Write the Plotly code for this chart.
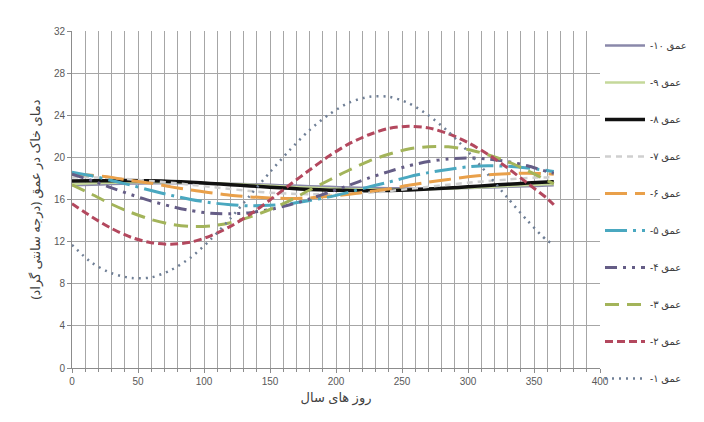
import plotly.graph_objects as go

days = [0, 15, 30, 45, 60, 75, 90, 105, 120, 135, 150, 165, 180, 195, 210,
        225, 240, 255, 270, 285, 300, 315, 330, 345, 360, 365]

depth_1 = [11.7, 10.0, 9.0, 8.55, 8.6, 9.3, 10.5, 12.2, 14.2, 16.4, 18.6, 20.7, 22.6,
           24.1, 25.2, 25.75, 25.75, 25.15, 24.0, 22.45, 20.55, 18.4, 16.15, 14.0, 12.1, 11.8]
depth_2 = [15.6, 14.35, 13.25, 12.4, 11.9, 11.75, 11.95, 12.55, 13.45, 14.6, 15.95, 17.4,
           18.8, 20.15, 21.3, 22.15, 22.75, 22.95, 22.8, 22.25, 21.4, 20.3, 19.0, 17.55, 16.1, 15.5]
depth_3 = [17.4, 16.5, 15.55, 14.75, 14.1, 13.65, 13.45, 13.5, 13.8, 14.35, 15.05, 15.9,
           16.9, 17.85, 18.8, 19.65, 20.3, 20.8, 21.0, 21.0, 20.75, 20.25, 19.6, 18.75, 17.8, 17.5]
depth_4 = [18.4, 17.8, 17.1, 16.45, 15.85, 15.35, 14.95, 14.7, 14.65, 14.75, 15.05, 15.5,
           16.05, 16.7, 17.35, 18.05, 18.65, 19.2, 19.6, 19.85, 19.95, 19.85, 19.6, 19.2, 18.65, 18.5]
depth_5 = [18.6, 18.25, 17.8, 17.35, 16.85, 16.4, 16.0, 15.7, 15.5, 15.4, 15.45, 15.6,
           15.9, 16.25, 16.7, 17.2, 17.65, 18.15, 18.55, 18.85, 19.1, 19.2, 19.15, 19.0, 18.75, 18.65]
depth_6 = [18.4, 18.3, 18.1, 17.8, 17.55, 17.2, 16.9, 16.65, 16.4, 16.25, 16.15, 16.1,
           16.15, 16.3, 16.5, 16.75, 17.0, 17.35, 17.65, 17.9, 18.15, 18.35, 18.45, 18.5, 18.45, 18.4]
depth_7 = [18.1, 18.1, 18.05, 17.9, 17.75, 17.6, 17.4, 17.2, 17.0, 16.8, 16.65, 16.55,
           16.5, 16.5, 16.55, 16.65, 16.8, 17.0, 17.2, 17.4, 17.6, 17.75, 17.9, 18.05, 18.1, 18.1]
depth_8 = [17.75, 17.77, 17.79, 17.8, 17.77, 17.72, 17.63, 17.53, 17.41, 17.29, 17.17, 17.06,
           16.96, 16.89, 16.85, 16.84, 16.86, 16.91, 16.99, 17.09, 17.21, 17.33, 17.45, 17.56, 17.66, 17.69]
depth_9 = [17.48, 17.55, 17.6, 17.64, 17.65, 17.64, 17.6, 17.55, 17.48, 17.4, 17.31, 17.22,
           17.13, 17.06, 17.0, 16.97, 16.95, 16.96, 16.99, 17.04, 17.11, 17.19, 17.28, 17.37, 17.45, 17.48]
depth_10 = [17.35, 17.41, 17.46, 17.51, 17.54, 17.55, 17.55, 17.53, 17.49, 17.45, 17.39, 17.33,
            17.26, 17.2, 17.15, 17.1, 17.07, 17.05, 17.05, 17.07, 17.1, 17.15, 17.2, 17.26, 17.33, 17.35]

names = ["-۱۰ عمق", "-۹ عمق", "-۸ عمق", "-۷ عمق", "-۶ عمق",
         "-۵ عمق", "-۴ عمق", "-۳ عمق", "-۲ عمق", "-۱ عمق"]
series = [depth_10, depth_9, depth_8, depth_7, depth_6,
          depth_5, depth_4, depth_3, depth_2, depth_1]

styles = [
    dict(color="#8a88aa", width=2.5, dash="solid"),
    dict(color="#c5d89a", width=2.5, dash="solid"),
    dict(color="#111111", width=3.5, dash="solid"),
    dict(color="#cfcfcf", width=2.5, dash="6px,5px"),
    dict(color="#e9a04a", width=3, dash="22px,8px"),
    dict(color="#4aa8c0", width=3, dash="22px,6px,3px,6px"),
    dict(color="#655d86", width=3, dash="12px,6px,3px,6px,3px,6px"),
    dict(color="#a3b45a", width=3, dash="14px,8px"),
    dict(color="#b3485e", width=3, dash="8px,4px"),
    dict(color="#6f7f96", width=2.5, dash="2px,5px"),
]

fig = go.Figure()
for i, (nm, ys, st) in enumerate(zip(names, series, styles)):
    fig.add_trace(go.Scatter(
        x=days, y=ys, name=nm, mode="lines",
        line=dict(shape="spline", smoothing=0.8, **st),
        legendgroup=f"g{i}",
    ))

axis_font = dict(family="Liberation Sans, Arial", size=10, color="#595959")
fig.update_layout(
    width=704, height=422,
    margin=dict(l=72, r=104, t=31, b=54),
    paper_bgcolor="white", plot_bgcolor="white",
    showlegend=True,
    legend=dict(x=1.0, xanchor="left", y=1.0, yanchor="top",
                font=dict(family="Noto Sans, DejaVu Sans", size=10, color="#404040"),
                tracegroupgap=18, itemwidth=40, maxheight=420,
                bgcolor="rgba(0,0,0,0)"),
    xaxis=dict(range=[0, 400], tick0=0, dtick=50, showgrid=True, gridcolor="#a6a6a6",
               gridwidth=1, showline=True, linecolor="#8c8c8c", ticks="outside",
               ticklen=4, tickcolor="#8c8c8c", tickfont=axis_font, zeroline=False,
               minor=dict(dtick=10, showgrid=True, gridcolor="#a6a6a6", gridwidth=1,
                          ticks="outside", ticklen=3, tickcolor="#8c8c8c"),
               title=dict(text="روز های سال",
                          font=dict(family="Noto Sans, DejaVu Sans", size=13, color="#404040"),
                          standoff=6)),
    yaxis=dict(range=[0, 32], tick0=0, dtick=4, showgrid=True, gridcolor="#a6a6a6",
               gridwidth=1, showline=True, linecolor="#8c8c8c", ticks="outside",
               ticklen=4, tickcolor="#8c8c8c", tickfont=axis_font, zeroline=False,
               title=dict(text="دمای خاک در عمق (درجه سانتی گراد)",
                          font=dict(family="Noto Sans, DejaVu Sans", size=13, color="#404040"),
                          standoff=10)),
)

fig.write_html("out.html")
